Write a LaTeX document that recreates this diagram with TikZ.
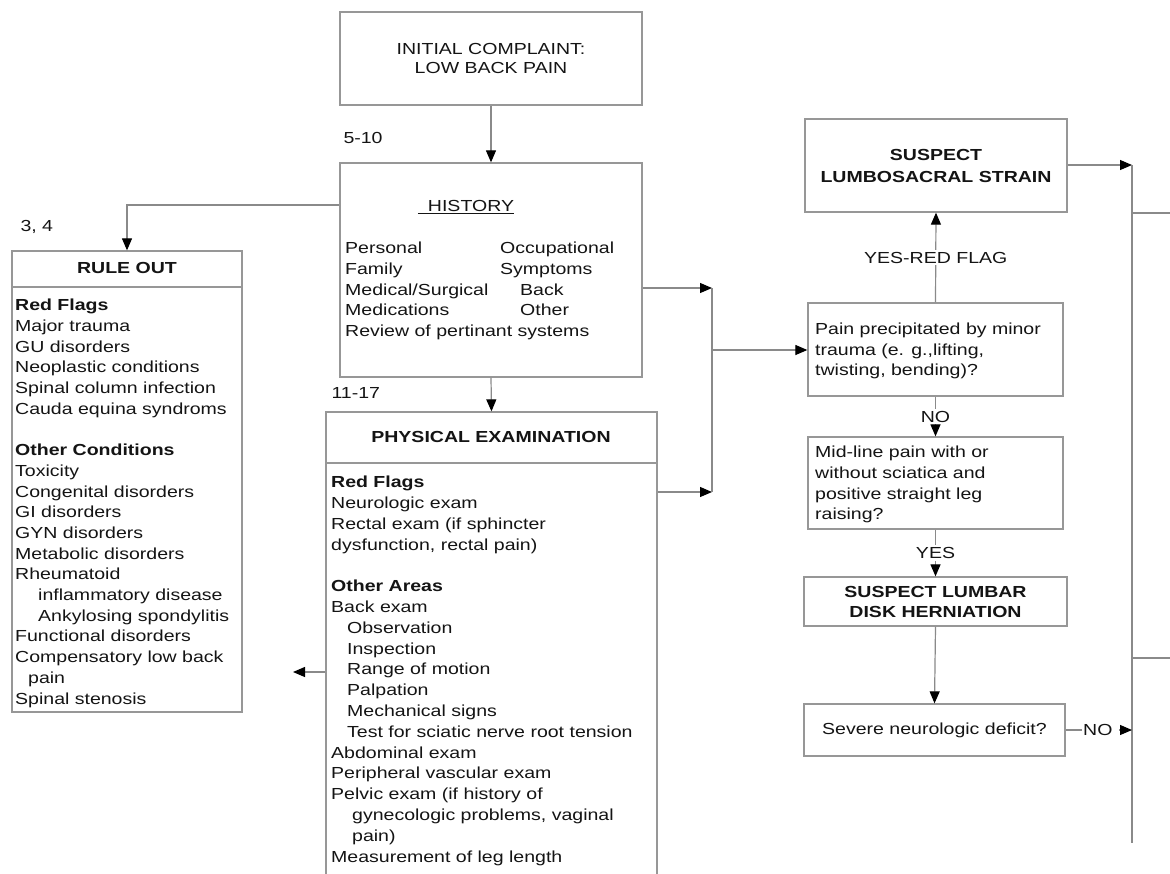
\documentclass[tikz,border=0pt]{standalone}
\usepackage{fontspec}
\setmainfont{Liberation Sans}[FakeStretch=1.22]
\usetikzlibrary{arrows.meta}
\definecolor{lc}{HTML}{8A8A8A}
\definecolor{bc}{HTML}{979797}
\definecolor{tc}{HTML}{141414}
\begin{document}
\begin{tikzpicture}[x=1pt,y=-1pt,
  every node/.style={font=\fontsize{16}{20.7}\selectfont, text=tc},
  box/.style n args={2}{draw=bc, line width=1.3pt, rectangle, inner sep=0pt,
    minimum width=#1, minimum height=#2, align=center},
  lst/.style={anchor=north west, align=left, inner sep=0pt},
  lbl/.style={fill=white, inner sep=2pt},
  ln/.style={draw=lc, line width=1.2pt},
  arr/.style={draw=lc, line width=1.2pt, -{Triangle[length=12pt,width=10pt,color=black]}},
  hdr/.style={font=\fontsize{16}{20.7}\selectfont\bfseries}
]
\path[use as bounding box, fill=white] (0,0) rectangle (1170,873);

% ---------- boxes ----------
\node[box={302}{93}, font=\fontsize{16}{19}\selectfont] (title) at (491,58.5) {INITIAL COMPLAINT:\\LOW BACK PAIN};
\node[box={302}{214}] (hist) at (491,270) {};
\node[box={230}{461}] (ruleout) at (127,481.5) {};
\node[box={331}{478}] (pe) at (491.5,651) {};
\node[box={262}{93}, font=\fontsize{16}{22}\selectfont\bfseries] (strain) at (936,165.5) {SUSPECT\\LUMBOSACRAL STRAIN};
\node[box={255}{93}] (pain) at (935.5,349.5) {};
\node[box={255}{92}] (mid) at (935.5,483) {};
\node[box={263}{49}, font=\fontsize{16}{20}\selectfont\bfseries] (lumbar) at (935.5,601.5) {SUSPECT LUMBAR\\DISK HERNIATION};
\node[box={261}{52}] (severe) at (934.5,730) {Severe neurologic deficit?};

% header separators
\draw[draw=bc, line width=1.3pt] (ruleout.west |- 0,287) -- (ruleout.east |- 0,287);
\draw[draw=bc, line width=1.3pt] (pe.west |- 0,463) -- (pe.east |- 0,463);

% ---------- texts ----------
\node[anchor=west] (n510) at (340,138) {5-10};
\node[anchor=west] (n34) at (17,227) {3, 4};
\node[anchor=west] (n1117) at (328,393) {11-17};

\node (histT) at (466,207) {\underline{\hspace*{10pt}HISTORY}};
\node[lst] (histL) at (345,241) {\rule{0pt}{12.5pt}Personal\\Family\\Medical/Surgical\\Medications\\Review of pertinant systems};
\node[lst] (histR) at (500,241) {\rule{0pt}{12.5pt}Occupational\\Symptoms\\\hspace*{20pt}Back\\\hspace*{20pt}Other};

\node[hdr] (ruleT) at (127,268) {RULE OUT};
\node[lst] (ruleL) at (15,298) {\rule{0pt}{12.5pt}\textbf{Red Flags}\\
Major trauma\\
GU disorders\\
Neoplastic conditions\\
Spinal column infection\\
Cauda equina syndroms\\[20.7pt]
\textbf{Other Conditions}\\
Toxicity\\
Congenital disorders\\
GI disorders\\
GYN disorders\\
Metabolic disorders\\
Rheumatoid\\
\hspace*{23pt}inflammatory disease\\
\hspace*{23pt}Ankylosing spondylitis\\
Functional disorders\\
Compensatory low back\\
\hspace*{13pt}pain\\
Spinal stenosis};

\node[hdr] (peT) at (491,437) {PHYSICAL EXAMINATION};
\node[lst, font=\fontsize{16}{20.8}\selectfont] (peL) at (331,475) {\rule{0pt}{12.5pt}\textbf{Red Flags}\\
Neurologic exam\\
Rectal exam (if sphincter\\
dysfunction, rectal pain)\\[20.8pt]
\textbf{Other Areas}\\
Back exam\\
\hspace*{16pt}Observation\\
\hspace*{16pt}Inspection\\
\hspace*{16pt}Range of motion\\
\hspace*{16pt}Palpation\\
\hspace*{16pt}Mechanical signs\\
\hspace*{16pt}Test for sciatic nerve root tension\\
Abdominal exam\\
Peripheral vascular exam\\
Pelvic exam (if history of\\
\hspace*{21pt}gynecologic problems, vaginal\\
\hspace*{21pt}pain)\\
Measurement of leg length};

\node[lst, font=\fontsize{16}{20.5}\selectfont] (painT) at (815,322) {\rule{0pt}{12.5pt}Pain precipitated by minor\\trauma (e. g.,lifting,\\twisting, bending)?};
\node[lst, font=\fontsize{16}{20.7}\selectfont] (midT) at (815,445) {\rule{0pt}{12.5pt}Mid-line pain with or\\without sciatica and\\positive straight leg\\raising?};

% ---------- connector points ----------
\coordinate (peout) at (293,672);
\coordinate (j1) at (712,288);
\coordinate (j2) at (712,492);
\coordinate (j3) at (712,350);
\coordinate (r1) at (1132,165);
\coordinate (r2) at (1132,843);
\coordinate (r3) at (1132,213);
\coordinate (r4) at (1132,658);
\coordinate (r3e) at (1170,213);
\coordinate (r4e) at (1170,658);
\coordinate (rno) at (1132,730);

% ---------- connectors ----------
\draw[arr] (title.south) -- (hist.north);
\draw[arr] ([yshift=65pt]hist.west) -| (ruleout.north);
\draw[arr] (hist.south) -- (pe.north);
\draw[arr] (pe.west |- peout) -- (peout);
\draw[arr] (hist.east |- j1) -- (j1);
\draw[arr] (pe.east |- j2) -- (j2);
\draw[ln] (j1) -- (j2);
\draw[arr] (j3) -- (pain.west |- j3);
\draw[arr] (pain.north) -- node[lbl] {YES-RED FLAG} (strain.south);
\draw[arr] (pain.south) -- node[lbl] {NO} (mid.north);
\draw[arr] (mid.south) -- node[lbl] {YES} (lumbar.north);
\draw[arr] (lumbar.south) -- (severe.north);
\draw[arr] (strain.east |- r1) -- (r1);
\draw[ln] (r1) -- (r2);
\draw[ln] (r3) -- (r3e);
\draw[ln] (r4) -- (r4e);
\draw[arr] (severe.east) -- node[pos=0.24, anchor=west, fill=white, inner xsep=1pt, inner ysep=2pt, text width=35pt, align=left] {NO} (rno);
\end{tikzpicture}
\end{document}
